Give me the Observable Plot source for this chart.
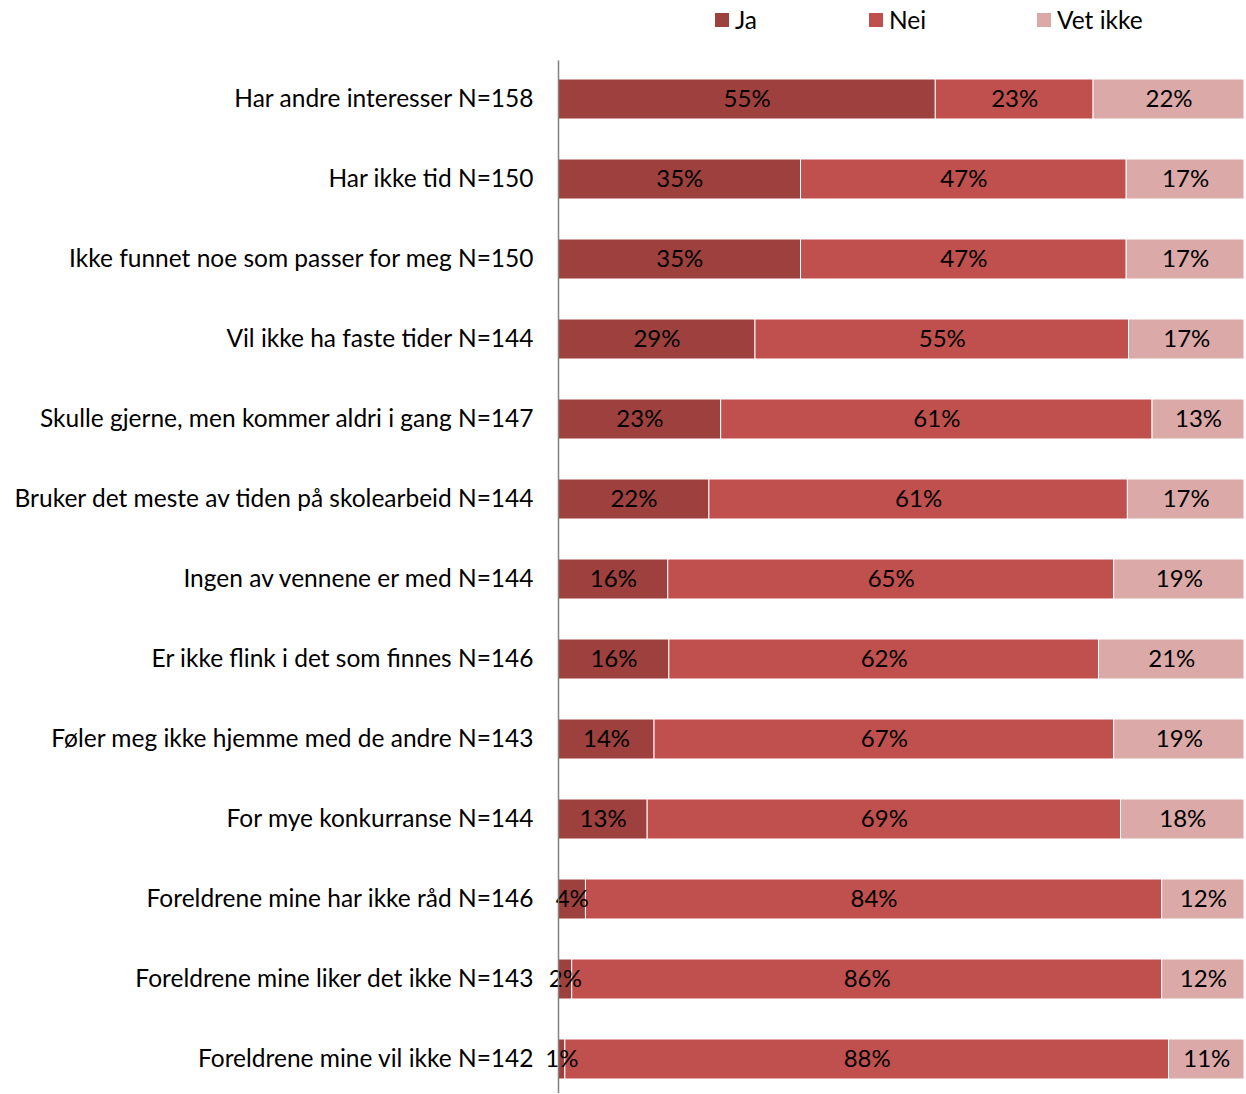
<!DOCTYPE html>
<html>
<head>
<meta charset="utf-8">
<script src="https://cdn.jsdelivr.net/npm/d3@7"></script>
<script src="https://cdn.jsdelivr.net/npm/@observablehq/plot@0.6"></script>
<style>
  html, body { margin: 0; padding: 0; background: #fff; }
  body { width: 1246px; font-family: Lato, "Open Sans", sans-serif; }
  #legend { position: relative; height: 36px; width: 1246px; font-size: 24.5px; color: #000; }
  .item { position: absolute; top: 5px; display: flex; align-items: center; line-height: 30px; }
  .sw { width: 14px; height: 14px; margin-right: 6px; }
  svg { display: block; }
</style>
</head>
<body>
<div id="legend"></div>
<div id="chart"></div>
<script>
const categories = [
  "Har andre interesser N=158",
  "Har ikke tid N=150",
  "Ikke funnet noe som passer for meg N=150",
  "Vil ikke ha faste tider N=144",
  "Skulle gjerne, men kommer aldri i gang N=147",
  "Bruker det meste av tiden på skolearbeid N=144",
  "Ingen av vennene er med N=144",
  "Er ikke flink i det som finnes N=146",
  "Føler meg ikke hjemme med de andre N=143",
  "For mye konkurranse N=144",
  "Foreldrene mine har ikke råd N=146",
  "Foreldrene mine liker det ikke N=143",
  "Foreldrene mine vil ikke N=142"
];
const responses = ["Ja", "Nei", "Vet ikke"];
const ja      = [55, 35, 35, 29, 23, 22, 16, 16, 14, 13, 4, 2, 1];
const nei     = [23, 47, 47, 55, 61, 61, 65, 62, 67, 69, 84, 86, 88];
const vetIkke = [22, 17, 17, 17, 13, 17, 19, 21, 19, 18, 12, 12, 11];
const colors  = ["#9e403d", "#c0504d", "#dba9a8"];

const series = [ja, nei, vetIkke];
const data = [];
categories.forEach((c, i) => {
  responses.forEach((r, k) => data.push({cat: c, resp: r, value: series[k][i]}));
});

// legend
const legend = document.getElementById("legend");
const legendLeft = [715, 869, 1037];
responses.forEach((r, k) => {
  const it = document.createElement("div");
  it.className = "item";
  it.style.left = legendLeft[k] + "px";
  it.innerHTML = `<span class="sw" style="background:${colors[k]}"></span><span>${r}</span>`;
  legend.appendChild(it);
});

const stackOpts = {x: "value", y: "cat", z: "resp", offset: "normalize", order: responses};

const chart = Plot.plot({
  width: 1246,
  height: 1058,
  marginLeft: 558,
  marginRight: 2,
  marginTop: 34.5,
  marginBottom: 6,
  style: {fontFamily: "Lato, 'Open Sans', sans-serif", fontSize: "24px", color: "#000", background: "#fff"},
  x: {domain: [0, 1], axis: null},
  y: {domain: categories, paddingInner: 0.5, paddingOuter: 0.1, label: null},
  color: {domain: responses, range: colors},
  marks: [
    Plot.barX(data, Plot.stackX({...stackOpts, fill: "resp", stroke: "white", strokeWidth: 1})),
    Plot.textX(data, Plot.stackX({...stackOpts, text: d => d.value + "%", fill: "#000", fontSize: 24})),
    Plot.ruleX([0], {stroke: "#808080", strokeWidth: 1.5, insetTop: -10, insetBottom: -5}),
    Plot.axisY({tickSize: 0, tickPadding: 25, fontSize: 24.5, label: null})
  ]
});
document.getElementById("chart").appendChild(chart);
</script>
</body>
</html>
